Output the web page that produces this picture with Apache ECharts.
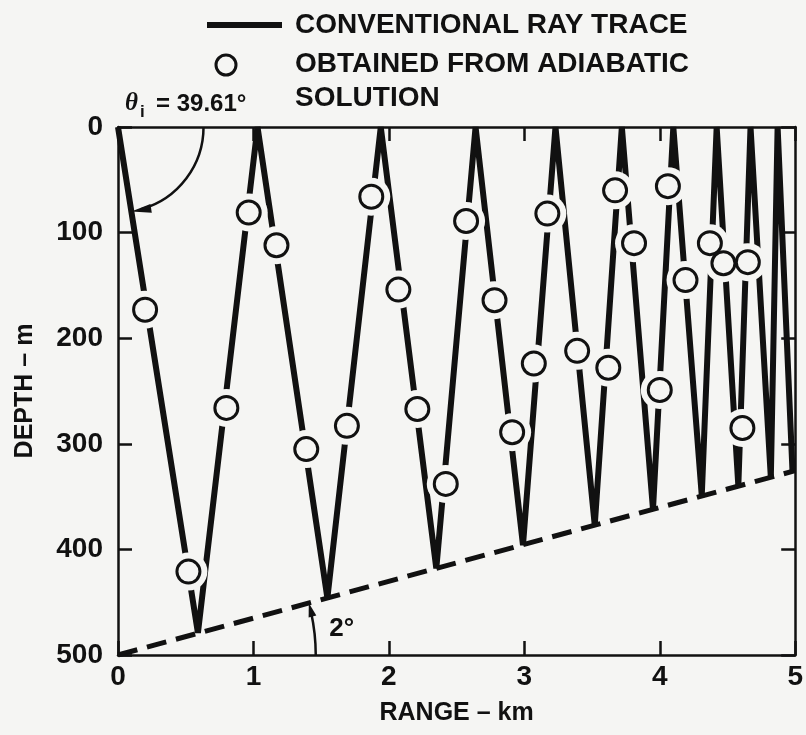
<!DOCTYPE html>
<html>
<head>
<meta charset="utf-8">
<script src="https://cdn.jsdelivr.net/npm/echarts@6/dist/echarts.min.js"></script>
<style>
  html, body { margin: 0; padding: 0; background: #f5f5f3; }
  #chart { width: 806px; height: 735px; }
</style>
</head>
<body>
<div id="chart"></div>
<script>
// Conventional ray trace: alternating surface (0 m) and sloping-bottom reflections
const rayRange = [0, 0.59, 1.03, 1.546, 1.94, 2.35, 2.64, 2.99, 3.23, 3.52, 3.72, 3.95, 4.10, 4.31, 4.42, 4.58, 4.67, 4.82, 4.87, 4.98];
const rayDepth = [0, 479, 0, 446, 0, 418, 0, 396, 0, 377, 0, 362, 0, 349, 0, 340, 0, 332, 0, 326];

// Points obtained from the adiabatic solution
const adiaRange = [0.20, 0.52, 0.80, 0.965, 1.17, 1.39, 1.69, 1.87, 2.07, 2.21, 2.42, 2.57, 2.78, 2.91, 3.07, 3.17, 3.39, 3.62, 3.67, 3.81, 4.00, 4.06, 4.19, 4.37, 4.47, 4.61, 4.65];
const adiaDepth = [173, 421, 266, 81, 112, 305, 283, 66, 154, 267, 338, 89, 164, 289, 224, 82, 212, 228, 60, 110, 249, 56, 145, 110, 129, 285, 128];

// Bottom rising at 2 degrees from 500 m at the source
const bottomRange = [0, 5];
const bottomDepth = [500, 325.4];

// Axis ticks
const rangeTicks = [0, 1, 2, 3, 4, 5];
const depthTicks = [0, 100, 200, 300, 400, 500];

// Annotations
const incidentAngle = '39.61°';
const slopeLabel = '2°';
const slopeArrowRange = 1.46;
const angleArcDepth = 80;

const BG = '#f5f5f3';
const INK = '#111111';
const FONT = '"Liberation Sans", Arial, sans-serif';

const chart = echarts.init(document.getElementById('chart'));

const tickStyle = { inside: true, length: 14, lineStyle: { color: INK, width: 2.5 } };
const lineStyleAxis = { show: true, onZero: false, lineStyle: { color: INK, width: 2.5 } };
const labelStyle = { color: INK, fontFamily: FONT, fontWeight: 'bold', fontSize: 28 };

const xMin = rangeTicks[0], xMax = rangeTicks[rangeTicks.length - 1];
const yMin = depthTicks[0], yMax = depthTicks[depthTicks.length - 1];

chart.setOption({
  backgroundColor: BG,
  animation: false,
  grid: { left: 118, right: 9, top: 127, bottom: 80, containLabel: false },
  xAxis: [
    {
      type: 'value', position: 'bottom', min: xMin, max: xMax, interval: rangeTicks[1] - rangeTicks[0],
      axisLine: lineStyleAxis, axisTick: tickStyle, splitLine: { show: false },
      axisLabel: Object.assign({ margin: 8, showMaxLabel: true, showMinLabel: true }, labelStyle),
      name: 'RANGE – km', nameLocation: 'middle', nameGap: 46,
      nameTextStyle: { color: INK, fontFamily: FONT, fontWeight: 'bold', fontSize: 25 }
    },
    {
      type: 'value', position: 'top', min: xMin, max: xMax, interval: rangeTicks[1] - rangeTicks[0],
      axisLine: lineStyleAxis, axisTick: tickStyle, splitLine: { show: false },
      axisLabel: { show: false }
    }
  ],
  yAxis: [
    {
      type: 'value', position: 'left', inverse: true, min: yMin, max: yMax, interval: depthTicks[1] - depthTicks[0],
      axisLine: lineStyleAxis, axisTick: tickStyle, splitLine: { show: false },
      axisLabel: Object.assign({ margin: 15 }, labelStyle),
      name: 'DEPTH – m', nameLocation: 'middle', nameGap: 80,
      nameTextStyle: { color: INK, fontFamily: FONT, fontWeight: 'bold', fontSize: 25 }
    },
    {
      type: 'value', position: 'right', inverse: true, min: yMin, max: yMax, interval: depthTicks[1] - depthTicks[0],
      axisLine: lineStyleAxis, axisTick: tickStyle, splitLine: { show: false },
      axisLabel: { show: false }
    }
  ],
  series: [
    {
      name: 'CONVENTIONAL RAY TRACE', type: 'line', silent: true, z: 2,
      data: rayRange.map((r, i) => [r, rayDepth[i]]),
      symbol: 'none', lineStyle: { color: INK, width: 6 }
    },
    {
      name: 'Bottom', type: 'line', silent: true, z: 2,
      data: bottomRange.map((r, i) => [r, bottomDepth[i]]),
      symbol: 'none', lineStyle: { color: INK, width: 5, type: [20, 10] }
    },
    {
      // clearing halo that breaks the ray line around each solution point
      name: 'halo', type: 'scatter', silent: true, z: 3,
      data: adiaRange.map((r, i) => [r, adiaDepth[i]]),
      symbolSize: 38, itemStyle: { color: BG, opacity: 1 }
    },
    {
      name: 'OBTAINED FROM ADIABATIC SOLUTION', type: 'scatter', silent: true, z: 4,
      data: adiaRange.map((r, i) => [r, adiaDepth[i]]),
      symbolSize: 23, itemStyle: { color: BG, borderColor: INK, borderWidth: 3, opacity: 1 }
    }
  ]
});

// Annotation geometry derived from the axes
const px = (r, d) => chart.convertToPixel({ gridIndex: 0 }, [r, d]);

function arrowHead(tip, dir, len, half) {
  const n = Math.hypot(dir[0], dir[1]);
  const ux = dir[0] / n, uy = dir[1] / n;
  const bx = tip[0] - ux * len, by = tip[1] - uy * len;
  return [tip, [bx - uy * half, by + ux * half], [bx + uy * half, by - ux * half]];
}

// Incident-angle arc from the surface down to the first ray leg
const origin = px(0, 0);
const rayPt = px(rayRange[1] * angleArcDepth / rayDepth[1], angleArcDepth);
const rA = Math.hypot(rayPt[0] - origin[0], rayPt[1] - origin[1]);
const endA = Math.atan2(rayPt[1] - origin[1], rayPt[0] - origin[0]);
const tipA = [origin[0] + rA * Math.cos(endA), origin[1] + rA * Math.sin(endA)];
const dirA = [-Math.sin(endA), Math.cos(endA)];

// Slope arc from the range axis up to the bottom line
const corner = px(0, yMax);
const footB = px(slopeArrowRange, yMax);
const rB = footB[0] - corner[0];
const farB = px(bottomRange[1], bottomDepth[1]);
const endB = Math.atan2(farB[1] - corner[1], farB[0] - corner[0]);
const tipB = [corner[0] + rB * Math.cos(endB), corner[1] + rB * Math.sin(endB)];
const dirB = [Math.sin(endB), -Math.cos(endB)];
const slopeTextPos = px(slopeArrowRange + 0.1, yMax - 25);

const txt = (x, y, text, size, extra) => ({
  type: 'text', x: x, y: y, silent: true, z: 10,
  style: Object.assign({
    text: text, fill: INK, fontFamily: FONT, fontWeight: 'bold', fontSize: size,
    align: 'left', verticalAlign: 'middle'
  }, extra || {})
});

chart.setOption({
  graphic: [
    // legend
    { type: 'line', silent: true, shape: { x1: 207, y1: 25, x2: 282, y2: 25 }, style: { stroke: INK, lineWidth: 6 } },
    txt(295, 25, 'CONVENTIONAL RAY TRACE', 28),
    { type: 'circle', silent: true, shape: { cx: 226, cy: 65, r: 10 }, style: { fill: BG, stroke: INK, lineWidth: 3 } },
    txt(295, 64, 'OBTAINED FROM ADIABATIC', 28),
    txt(295, 98, 'SOLUTION', 28),
    // incident angle label
    txt(125, 104, 'θ', 25, { fontFamily: '"Liberation Serif", serif', fontStyle: 'italic', fontWeight: 'bold' }),
    txt(140, 112, 'i', 17),
    txt(156, 104, '= ' + incidentAngle, 24),
    {
      type: 'arc', silent: true, z: 10,
      shape: { cx: origin[0], cy: origin[1], r: rA, startAngle: 0, endAngle: endA - 0.12, clockwise: true },
      style: { stroke: INK, lineWidth: 2.5, fill: null }
    },
    { type: 'polygon', silent: true, z: 10, shape: { points: arrowHead(tipA, dirA, 20, 4.5) }, style: { fill: INK } },
    // bottom slope label
    {
      type: 'arc', silent: true, z: 10,
      shape: { cx: corner[0], cy: corner[1], r: rB, startAngle: 0, endAngle: endB + 0.05, clockwise: false },
      style: { stroke: INK, lineWidth: 2.5, fill: null }
    },
    { type: 'polygon', silent: true, z: 10, shape: { points: arrowHead(tipB, dirB, 14, 4) }, style: { fill: INK } },
    txt(slopeTextPos[0], slopeTextPos[1], slopeLabel, 26)
  ]
});
</script>
</body>
</html>
